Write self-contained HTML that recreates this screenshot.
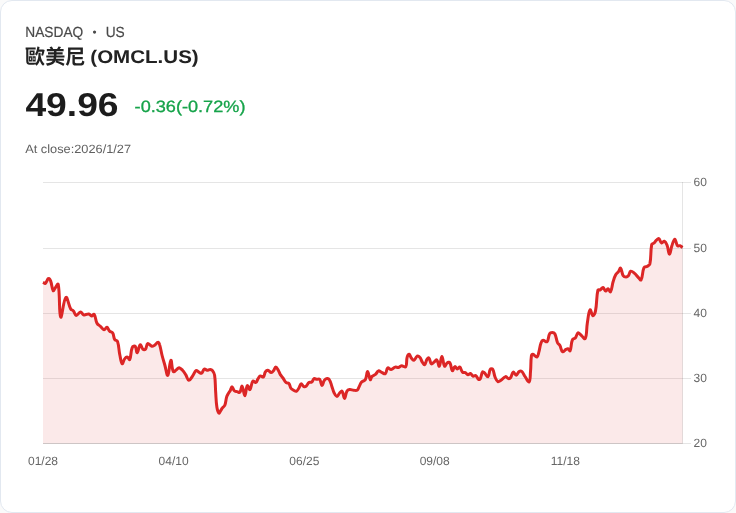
<!DOCTYPE html>
<html lang="zh-Hant">
<head>
<meta charset="utf-8">
<title>OMCL.US</title>
<style>
html,body{margin:0;padding:0;background:#fafafa;}
body{width:736px;height:513px;overflow:hidden;position:relative;font-family:"Liberation Sans","Noto Sans CJK TC",sans-serif;}
.card{position:absolute;left:0;top:0;width:734px;height:511px;border:1px solid #e2e8f0;border-radius:12px;background:#fff;}
svg{position:absolute;left:0;top:0;will-change:transform;text-rendering:geometricPrecision;}
svg text{font-family:"Liberation Sans",sans-serif;font-size:12px;fill:#666;}
svg .h{font-family:"Liberation Sans","Noto Sans CJK TC",sans-serif;}
#mk,#mk3{font-size:14.6px;fill:#4a4a4a;stroke:#4a4a4a;stroke-width:0.2px;}
#mk2{font-size:14.6px;fill:#4a4a4a;}
#nm{font-family:"Noto Sans CJK TC","Liberation Sans",sans-serif;font-size:20.5px;font-weight:700;fill:#222;}
#nm2{font-size:18.4px;font-weight:700;fill:#222;}
#px{font-size:33px;font-weight:700;fill:#1c1c1c;}
#ch{font-size:16.4px;fill:#16a34a;stroke:#16a34a;stroke-width:0.3px;}
#cl{font-size:12px;fill:#606060;}
</style>
</head>
<body>
<div class="card"></div>
<svg width="736" height="513" viewBox="0 0 736 513">
<g stroke="rgba(0,0,0,0.1)" stroke-width="1" fill="none" shape-rendering="crispEdges">
<path d="M43 182.5H690.5M43 248.5H690.5M43 313.5H690.5M43 378.5H690.5M43 443.5H690.5"/>
</g>
<g text-anchor="start">
<text x="693.5" y="186">60</text><text x="693.5" y="252">50</text><text x="693.5" y="317">40</text><text x="693.5" y="382">30</text><text x="693.5" y="447">20</text>
</g>
<g text-anchor="middle">
<text x="43" y="465">01/28</text><text x="173.6" y="465">04/10</text><text x="304.3" y="465">06/25</text><text x="434.7" y="465">09/08</text><text x="565.3" y="465">11/18</text>
</g>
<path d="M43.0 282.3C43.9 282.7 44.6 283.8 45.2 283.4C46.8 282.3 47.1 279.1 48.5 278.5C49.3 278.1 50.2 279.7 50.6 280.9C52.0 284.6 51.8 288.4 53.2 290.7C53.6 291.4 54.3 289.3 55.0 288.4C56.3 286.8 57.9 282.8 58.2 284.4C60.2 294.3 58.8 313.9 60.7 317.1C61.9 319.1 63.4 299.3 65.9 297.3C67.4 296.1 68.3 304.6 70.7 308.9C71.3 310.0 72.5 309.9 73.4 310.9C74.7 312.5 74.8 315.2 76.2 315.4C77.6 315.6 78.8 312.1 80.5 312.0C81.9 311.9 82.3 314.6 83.9 315.0C85.6 315.4 87.0 313.7 88.8 313.9C90.1 314.1 90.5 315.9 91.6 316.0C92.6 316.1 93.7 313.6 94.2 314.3C95.8 316.5 95.3 320.0 97.0 323.2C97.9 324.9 99.2 325.2 100.7 326.6C102.1 327.9 102.7 329.6 104.1 329.8C105.2 329.9 105.9 327.1 106.9 327.3C108.1 327.6 108.3 329.8 109.6 331.1C110.6 332.1 112.0 331.8 112.7 333.0C114.0 335.2 113.4 337.3 114.7 339.5C115.3 340.6 117.1 340.2 117.5 341.4C119.1 346.3 118.7 349.5 119.8 354.8C120.6 358.4 121.0 362.8 122.2 363.7C123.0 364.3 123.4 360.3 124.8 358.6C125.5 357.7 126.4 356.9 127.3 357.1C128.4 357.3 129.3 360.4 129.7 359.6C131.3 356.5 130.5 351.6 132.3 347.3C132.7 346.2 134.6 345.5 135.2 346.2C136.5 347.7 136.3 352.9 137.2 352.7C138.3 352.4 138.8 345.6 140.2 344.8C141.1 344.3 141.6 348.1 143.0 349.3C143.6 349.9 144.9 349.9 145.4 349.3C146.8 347.6 146.3 344.2 147.7 343.5C148.8 343.0 150.1 345.8 151.8 346.2C152.8 346.5 153.6 345.8 154.6 345.2C156.1 344.2 156.8 342.3 158.0 342.2C158.8 342.1 159.3 343.5 159.6 344.6C160.9 348.8 161.0 351.2 162.1 355.5C163.1 359.3 163.7 361.2 164.8 365.0C166.0 369.1 166.8 376.1 167.8 375.3C169.2 374.2 169.6 361.0 170.9 360.2C171.8 359.6 171.6 368.7 173.3 371.6C173.8 372.5 175.2 370.6 176.4 369.8C177.5 369.0 178.0 367.6 179.1 367.7C180.4 367.8 181.3 369.0 182.5 370.2C184.0 371.8 184.5 372.8 185.7 374.6C187.1 376.8 187.4 380.0 188.9 380.3C190.2 380.5 191.3 377.8 192.7 375.9C194.2 373.8 194.5 371.5 196.1 370.5C196.9 370.0 197.7 371.5 198.9 372.1C199.9 372.6 200.8 373.6 201.6 373.2C203.0 372.4 202.9 369.8 204.3 369.1C205.1 368.6 206.0 370.1 207.1 370.2C208.3 370.3 209.0 369.3 210.2 369.4C211.2 369.5 211.9 369.9 212.5 370.7C213.6 372.2 214.3 373.3 214.6 375.2C215.5 381.3 215.2 384.6 215.6 390.9C216.1 397.5 215.9 400.8 216.9 407.3C217.3 409.8 217.9 412.3 218.9 413.2C219.4 413.6 220.0 411.7 220.7 410.7C221.4 409.7 221.5 409.0 222.3 408.0C223.2 406.8 224.3 406.6 224.8 405.3C226.0 402.3 225.7 400.3 226.6 397.1C227.0 395.7 227.5 395.0 228.2 393.7C228.9 392.4 229.5 392.0 230.2 390.7C231.0 389.2 231.2 386.8 232.0 386.8C232.8 386.8 233.1 389.5 234.3 390.7C235.1 391.5 236.0 391.3 237.1 391.6C238.2 391.9 239.2 392.9 239.8 392.3C241.2 390.8 241.3 385.7 242.1 386.2C243.3 387.0 243.8 395.8 244.8 395.7C245.9 395.6 245.9 387.4 247.3 385.7C248.0 384.9 249.2 390.2 250.0 389.6C251.4 388.4 251.1 383.2 252.8 381.1C253.4 380.3 254.9 382.9 255.8 382.5C257.1 381.9 257.1 380.0 258.2 378.4C258.9 377.3 259.3 376.2 260.3 375.9C261.3 375.6 262.6 377.6 263.4 377.0C264.7 376.0 264.2 373.6 265.4 371.8C266.0 370.9 266.8 370.1 267.8 370.2C269.2 370.4 269.9 372.4 271.2 372.5C272.1 372.6 272.8 371.6 273.5 370.7C274.6 369.4 274.7 367.1 275.7 367.1C276.7 367.1 277.5 369.0 278.4 370.5C279.5 372.3 279.6 373.4 280.7 375.2C281.5 376.4 282.1 376.8 283.0 378.0C284.3 379.8 284.6 381.3 286.2 382.7C287.0 383.4 288.2 382.6 288.9 383.4C290.1 384.8 289.8 386.5 290.9 388.2C291.6 389.3 292.4 389.5 293.6 390.2C294.6 390.8 295.5 391.6 296.4 391.3C297.6 390.8 298.0 389.5 298.8 388.2C299.9 386.5 300.0 384.2 301.1 383.8C302.0 383.5 302.6 386.0 303.9 386.6C304.7 387.0 305.5 386.8 306.2 386.2C307.5 385.1 307.5 383.5 308.9 382.5C309.7 381.9 310.9 382.7 311.7 382.1C312.9 381.2 312.9 379.3 314.1 378.6C314.9 378.2 315.7 379.2 316.8 379.3C317.9 379.4 319.0 378.6 319.6 379.3C321.1 381.0 321.0 385.3 322.0 385.5C322.9 385.7 323.0 382.1 324.3 380.3C325.1 379.2 326.0 378.5 327.1 378.4C328.0 378.3 328.9 378.8 329.4 379.7C330.8 382.0 330.9 383.6 331.8 386.2C332.8 388.9 332.9 390.5 334.2 393.0C335.0 394.5 335.9 396.4 337.0 396.4C338.1 396.4 338.4 394.2 339.6 393.0C340.4 392.2 341.5 390.7 342.1 391.3C343.5 392.8 343.5 398.4 344.5 398.4C345.5 398.4 345.5 393.8 346.9 391.3C347.5 390.2 348.4 389.8 349.6 389.6C351.1 389.4 352.1 390.1 353.7 390.2C355.1 390.3 356.1 390.8 357.1 390.2C358.3 389.5 358.3 388.2 359.1 386.8C360.1 384.9 360.2 383.7 361.6 382.1C362.7 380.8 364.5 381.1 365.3 379.7C366.9 376.9 366.6 371.6 367.6 371.6C368.6 371.6 369.1 378.4 370.3 379.7C370.8 380.3 371.0 377.4 372.0 376.4C373.1 375.3 374.3 375.4 375.5 374.4C376.9 373.2 377.1 371.4 378.5 370.9C379.5 370.5 380.3 371.8 381.6 372.3C383.1 372.9 384.4 374.4 385.3 373.7C386.8 372.6 386.3 368.9 387.7 367.9C388.6 367.3 389.8 369.7 391.1 369.6C392.8 369.4 393.4 367.6 395.2 367.1C396.4 366.8 397.3 367.8 398.6 367.5C399.8 367.2 400.2 365.8 401.4 365.7C403.0 365.5 405.0 367.9 405.7 366.8C407.3 364.5 406.1 360.9 407.1 357.3C407.5 355.9 408.4 354.2 409.2 354.3C410.1 354.5 410.3 356.7 411.3 358.0C412.1 359.1 413.0 360.6 413.9 360.3C415.3 359.9 415.6 357.0 417.1 356.2C417.9 355.8 419.1 356.5 419.8 357.3C421.2 358.8 421.1 360.3 422.3 362.1C423.1 363.3 423.9 365.2 424.6 364.8C425.8 364.1 425.8 361.3 427.0 359.3C427.5 358.5 428.4 357.5 428.9 358.0C430.2 359.3 430.0 362.7 431.4 363.8C432.1 364.4 433.1 362.8 434.1 362.1C435.2 361.3 436.1 359.4 436.8 360.0C438.2 361.1 438.5 366.7 439.3 366.2C440.5 365.4 440.8 356.6 441.9 356.6C443.0 356.6 443.1 364.4 444.6 366.2C445.2 366.9 445.9 363.8 447.1 363.0C447.9 362.4 449.3 361.9 449.8 362.7C451.4 365.0 451.0 369.7 452.3 370.7C453.0 371.3 453.7 367.0 454.9 366.6C455.7 366.3 456.3 368.8 457.3 368.9C458.2 369.0 459.1 366.7 459.8 367.1C461.1 367.9 461.0 370.6 462.5 372.1C463.3 372.9 464.4 372.2 465.5 372.7C466.6 373.3 466.9 374.7 467.9 374.8C468.9 374.9 469.6 373.2 470.5 373.4C471.6 373.7 471.8 375.7 473.0 376.2C473.9 376.6 474.9 375.0 475.7 375.5C477.1 376.3 477.1 378.3 478.4 379.3C478.9 379.7 479.9 379.5 480.2 378.9C481.5 376.6 481.2 374.1 482.5 372.1C482.8 371.6 483.7 372.2 484.3 372.7C485.9 374.1 487.0 377.4 488.0 376.8C489.4 376.0 488.9 371.6 490.3 369.3C490.7 368.6 492.3 368.6 492.7 369.3C494.2 371.9 493.9 374.4 495.2 377.5C496.0 379.3 496.5 380.9 497.9 381.6C498.8 382.0 499.8 381.0 500.9 380.3C502.9 379.0 503.8 377.0 505.7 376.6C506.8 376.4 507.3 378.4 508.4 378.6C509.3 378.8 510.1 378.3 510.7 377.5C512.0 375.7 511.9 372.6 513.2 372.1C514.1 371.7 515.1 375.3 516.2 375.2C517.4 375.1 517.6 372.7 518.9 371.7C519.7 371.1 520.7 370.6 521.4 371.1C523.0 372.2 523.3 373.9 524.6 375.8C526.4 378.3 528.1 382.6 529.1 381.9C530.5 381.0 530.1 375.8 530.5 371.7C531.1 365.4 530.6 362.1 531.4 356.0C531.5 355.1 532.1 354.1 532.8 354.2C534.3 354.5 535.7 357.4 536.9 357.0C538.2 356.5 538.3 354.0 538.9 351.9C539.9 348.4 539.8 346.4 541.0 343.0C541.4 341.8 541.9 340.5 543.0 340.3C544.4 340.0 546.2 342.6 547.1 341.7C548.8 340.0 548.1 336.4 549.6 333.7C550.1 332.7 551.2 332.4 552.3 332.4C553.3 332.4 554.3 332.8 554.8 333.7C556.4 336.8 556.1 339.2 557.5 342.6C558.1 343.9 559.1 344.1 559.8 345.3C561.2 347.7 561.0 350.7 562.6 351.7C563.5 352.3 564.6 350.2 566.0 349.4C566.7 349.0 567.3 348.5 568.0 348.7C569.0 349.0 569.7 351.5 570.1 350.8C571.5 348.0 570.8 343.8 572.4 339.9C572.9 338.6 574.6 338.9 575.5 337.8C576.8 336.1 576.7 333.5 578.0 332.8C578.8 332.3 579.6 334.0 580.7 334.8C582.5 336.2 584.5 339.8 585.2 338.5C587.1 335.1 586.3 329.3 587.3 323.2C588.2 317.8 588.5 311.8 590.0 309.8C590.7 308.8 591.8 315.5 593.0 315.7C594.0 315.9 595.1 313.0 595.5 310.9C597.1 302.8 596.2 297.8 597.9 290.2C598.1 289.3 599.5 290.2 600.3 289.8C601.5 289.2 602.0 287.3 603.0 287.5C604.2 287.8 604.5 290.8 605.7 291.1C606.5 291.3 607.1 288.7 608.0 288.8C609.0 289.0 609.9 292.6 610.5 291.8C612.0 289.8 611.9 285.7 613.1 281.8C614.0 278.9 614.3 277.3 615.7 274.7C616.5 273.2 617.5 272.9 618.5 271.6C619.5 270.3 620.0 267.7 620.6 268.2C621.9 269.3 621.6 273.2 623.2 275.7C623.8 276.7 625.0 277.1 626.1 277.1C627.0 277.1 627.8 276.5 628.4 275.7C629.6 274.2 629.4 271.7 630.7 271.2C631.9 270.8 633.2 272.3 634.6 273.4C636.1 274.6 636.6 275.7 638.0 277.1C639.2 278.3 640.5 280.7 641.1 279.8C642.9 276.9 642.1 271.8 644.0 267.6C644.6 266.4 646.2 267.0 647.4 266.2C648.5 265.5 649.6 265.1 649.9 263.8C651.4 256.5 650.3 251.9 651.7 244.6C651.9 243.5 653.2 243.8 654.0 243.0C655.1 242.0 655.3 241.2 656.4 240.2C657.3 239.4 658.1 238.1 658.8 238.5C660.1 239.2 660.2 242.3 661.6 243.0C662.4 243.4 663.4 240.9 664.3 241.2C665.6 241.7 666.3 243.3 667.0 245.0C668.4 248.5 668.5 254.3 669.5 254.3C670.5 254.3 670.8 248.6 672.1 245.0C672.9 242.6 673.8 239.2 674.8 239.3C675.9 239.4 676.0 243.8 677.5 245.7C678.0 246.4 679.0 245.4 679.9 245.7C681.1 246.1 681.5 246.8 682.6 247.5L682.6 443.5L43.0 443.5Z" fill="rgba(220,38,38,0.1)" stroke="none"/>
<path d="M43.0 282.3C43.9 282.7 44.6 283.8 45.2 283.4C46.8 282.3 47.1 279.1 48.5 278.5C49.3 278.1 50.2 279.7 50.6 280.9C52.0 284.6 51.8 288.4 53.2 290.7C53.6 291.4 54.3 289.3 55.0 288.4C56.3 286.8 57.9 282.8 58.2 284.4C60.2 294.3 58.8 313.9 60.7 317.1C61.9 319.1 63.4 299.3 65.9 297.3C67.4 296.1 68.3 304.6 70.7 308.9C71.3 310.0 72.5 309.9 73.4 310.9C74.7 312.5 74.8 315.2 76.2 315.4C77.6 315.6 78.8 312.1 80.5 312.0C81.9 311.9 82.3 314.6 83.9 315.0C85.6 315.4 87.0 313.7 88.8 313.9C90.1 314.1 90.5 315.9 91.6 316.0C92.6 316.1 93.7 313.6 94.2 314.3C95.8 316.5 95.3 320.0 97.0 323.2C97.9 324.9 99.2 325.2 100.7 326.6C102.1 327.9 102.7 329.6 104.1 329.8C105.2 329.9 105.9 327.1 106.9 327.3C108.1 327.6 108.3 329.8 109.6 331.1C110.6 332.1 112.0 331.8 112.7 333.0C114.0 335.2 113.4 337.3 114.7 339.5C115.3 340.6 117.1 340.2 117.5 341.4C119.1 346.3 118.7 349.5 119.8 354.8C120.6 358.4 121.0 362.8 122.2 363.7C123.0 364.3 123.4 360.3 124.8 358.6C125.5 357.7 126.4 356.9 127.3 357.1C128.4 357.3 129.3 360.4 129.7 359.6C131.3 356.5 130.5 351.6 132.3 347.3C132.7 346.2 134.6 345.5 135.2 346.2C136.5 347.7 136.3 352.9 137.2 352.7C138.3 352.4 138.8 345.6 140.2 344.8C141.1 344.3 141.6 348.1 143.0 349.3C143.6 349.9 144.9 349.9 145.4 349.3C146.8 347.6 146.3 344.2 147.7 343.5C148.8 343.0 150.1 345.8 151.8 346.2C152.8 346.5 153.6 345.8 154.6 345.2C156.1 344.2 156.8 342.3 158.0 342.2C158.8 342.1 159.3 343.5 159.6 344.6C160.9 348.8 161.0 351.2 162.1 355.5C163.1 359.3 163.7 361.2 164.8 365.0C166.0 369.1 166.8 376.1 167.8 375.3C169.2 374.2 169.6 361.0 170.9 360.2C171.8 359.6 171.6 368.7 173.3 371.6C173.8 372.5 175.2 370.6 176.4 369.8C177.5 369.0 178.0 367.6 179.1 367.7C180.4 367.8 181.3 369.0 182.5 370.2C184.0 371.8 184.5 372.8 185.7 374.6C187.1 376.8 187.4 380.0 188.9 380.3C190.2 380.5 191.3 377.8 192.7 375.9C194.2 373.8 194.5 371.5 196.1 370.5C196.9 370.0 197.7 371.5 198.9 372.1C199.9 372.6 200.8 373.6 201.6 373.2C203.0 372.4 202.9 369.8 204.3 369.1C205.1 368.6 206.0 370.1 207.1 370.2C208.3 370.3 209.0 369.3 210.2 369.4C211.2 369.5 211.9 369.9 212.5 370.7C213.6 372.2 214.3 373.3 214.6 375.2C215.5 381.3 215.2 384.6 215.6 390.9C216.1 397.5 215.9 400.8 216.9 407.3C217.3 409.8 217.9 412.3 218.9 413.2C219.4 413.6 220.0 411.7 220.7 410.7C221.4 409.7 221.5 409.0 222.3 408.0C223.2 406.8 224.3 406.6 224.8 405.3C226.0 402.3 225.7 400.3 226.6 397.1C227.0 395.7 227.5 395.0 228.2 393.7C228.9 392.4 229.5 392.0 230.2 390.7C231.0 389.2 231.2 386.8 232.0 386.8C232.8 386.8 233.1 389.5 234.3 390.7C235.1 391.5 236.0 391.3 237.1 391.6C238.2 391.9 239.2 392.9 239.8 392.3C241.2 390.8 241.3 385.7 242.1 386.2C243.3 387.0 243.8 395.8 244.8 395.7C245.9 395.6 245.9 387.4 247.3 385.7C248.0 384.9 249.2 390.2 250.0 389.6C251.4 388.4 251.1 383.2 252.8 381.1C253.4 380.3 254.9 382.9 255.8 382.5C257.1 381.9 257.1 380.0 258.2 378.4C258.9 377.3 259.3 376.2 260.3 375.9C261.3 375.6 262.6 377.6 263.4 377.0C264.7 376.0 264.2 373.6 265.4 371.8C266.0 370.9 266.8 370.1 267.8 370.2C269.2 370.4 269.9 372.4 271.2 372.5C272.1 372.6 272.8 371.6 273.5 370.7C274.6 369.4 274.7 367.1 275.7 367.1C276.7 367.1 277.5 369.0 278.4 370.5C279.5 372.3 279.6 373.4 280.7 375.2C281.5 376.4 282.1 376.8 283.0 378.0C284.3 379.8 284.6 381.3 286.2 382.7C287.0 383.4 288.2 382.6 288.9 383.4C290.1 384.8 289.8 386.5 290.9 388.2C291.6 389.3 292.4 389.5 293.6 390.2C294.6 390.8 295.5 391.6 296.4 391.3C297.6 390.8 298.0 389.5 298.8 388.2C299.9 386.5 300.0 384.2 301.1 383.8C302.0 383.5 302.6 386.0 303.9 386.6C304.7 387.0 305.5 386.8 306.2 386.2C307.5 385.1 307.5 383.5 308.9 382.5C309.7 381.9 310.9 382.7 311.7 382.1C312.9 381.2 312.9 379.3 314.1 378.6C314.9 378.2 315.7 379.2 316.8 379.3C317.9 379.4 319.0 378.6 319.6 379.3C321.1 381.0 321.0 385.3 322.0 385.5C322.9 385.7 323.0 382.1 324.3 380.3C325.1 379.2 326.0 378.5 327.1 378.4C328.0 378.3 328.9 378.8 329.4 379.7C330.8 382.0 330.9 383.6 331.8 386.2C332.8 388.9 332.9 390.5 334.2 393.0C335.0 394.5 335.9 396.4 337.0 396.4C338.1 396.4 338.4 394.2 339.6 393.0C340.4 392.2 341.5 390.7 342.1 391.3C343.5 392.8 343.5 398.4 344.5 398.4C345.5 398.4 345.5 393.8 346.9 391.3C347.5 390.2 348.4 389.8 349.6 389.6C351.1 389.4 352.1 390.1 353.7 390.2C355.1 390.3 356.1 390.8 357.1 390.2C358.3 389.5 358.3 388.2 359.1 386.8C360.1 384.9 360.2 383.7 361.6 382.1C362.7 380.8 364.5 381.1 365.3 379.7C366.9 376.9 366.6 371.6 367.6 371.6C368.6 371.6 369.1 378.4 370.3 379.7C370.8 380.3 371.0 377.4 372.0 376.4C373.1 375.3 374.3 375.4 375.5 374.4C376.9 373.2 377.1 371.4 378.5 370.9C379.5 370.5 380.3 371.8 381.6 372.3C383.1 372.9 384.4 374.4 385.3 373.7C386.8 372.6 386.3 368.9 387.7 367.9C388.6 367.3 389.8 369.7 391.1 369.6C392.8 369.4 393.4 367.6 395.2 367.1C396.4 366.8 397.3 367.8 398.6 367.5C399.8 367.2 400.2 365.8 401.4 365.7C403.0 365.5 405.0 367.9 405.7 366.8C407.3 364.5 406.1 360.9 407.1 357.3C407.5 355.9 408.4 354.2 409.2 354.3C410.1 354.5 410.3 356.7 411.3 358.0C412.1 359.1 413.0 360.6 413.9 360.3C415.3 359.9 415.6 357.0 417.1 356.2C417.9 355.8 419.1 356.5 419.8 357.3C421.2 358.8 421.1 360.3 422.3 362.1C423.1 363.3 423.9 365.2 424.6 364.8C425.8 364.1 425.8 361.3 427.0 359.3C427.5 358.5 428.4 357.5 428.9 358.0C430.2 359.3 430.0 362.7 431.4 363.8C432.1 364.4 433.1 362.8 434.1 362.1C435.2 361.3 436.1 359.4 436.8 360.0C438.2 361.1 438.5 366.7 439.3 366.2C440.5 365.4 440.8 356.6 441.9 356.6C443.0 356.6 443.1 364.4 444.6 366.2C445.2 366.9 445.9 363.8 447.1 363.0C447.9 362.4 449.3 361.9 449.8 362.7C451.4 365.0 451.0 369.7 452.3 370.7C453.0 371.3 453.7 367.0 454.9 366.6C455.7 366.3 456.3 368.8 457.3 368.9C458.2 369.0 459.1 366.7 459.8 367.1C461.1 367.9 461.0 370.6 462.5 372.1C463.3 372.9 464.4 372.2 465.5 372.7C466.6 373.3 466.9 374.7 467.9 374.8C468.9 374.9 469.6 373.2 470.5 373.4C471.6 373.7 471.8 375.7 473.0 376.2C473.9 376.6 474.9 375.0 475.7 375.5C477.1 376.3 477.1 378.3 478.4 379.3C478.9 379.7 479.9 379.5 480.2 378.9C481.5 376.6 481.2 374.1 482.5 372.1C482.8 371.6 483.7 372.2 484.3 372.7C485.9 374.1 487.0 377.4 488.0 376.8C489.4 376.0 488.9 371.6 490.3 369.3C490.7 368.6 492.3 368.6 492.7 369.3C494.2 371.9 493.9 374.4 495.2 377.5C496.0 379.3 496.5 380.9 497.9 381.6C498.8 382.0 499.8 381.0 500.9 380.3C502.9 379.0 503.8 377.0 505.7 376.6C506.8 376.4 507.3 378.4 508.4 378.6C509.3 378.8 510.1 378.3 510.7 377.5C512.0 375.7 511.9 372.6 513.2 372.1C514.1 371.7 515.1 375.3 516.2 375.2C517.4 375.1 517.6 372.7 518.9 371.7C519.7 371.1 520.7 370.6 521.4 371.1C523.0 372.2 523.3 373.9 524.6 375.8C526.4 378.3 528.1 382.6 529.1 381.9C530.5 381.0 530.1 375.8 530.5 371.7C531.1 365.4 530.6 362.1 531.4 356.0C531.5 355.1 532.1 354.1 532.8 354.2C534.3 354.5 535.7 357.4 536.9 357.0C538.2 356.5 538.3 354.0 538.9 351.9C539.9 348.4 539.8 346.4 541.0 343.0C541.4 341.8 541.9 340.5 543.0 340.3C544.4 340.0 546.2 342.6 547.1 341.7C548.8 340.0 548.1 336.4 549.6 333.7C550.1 332.7 551.2 332.4 552.3 332.4C553.3 332.4 554.3 332.8 554.8 333.7C556.4 336.8 556.1 339.2 557.5 342.6C558.1 343.9 559.1 344.1 559.8 345.3C561.2 347.7 561.0 350.7 562.6 351.7C563.5 352.3 564.6 350.2 566.0 349.4C566.7 349.0 567.3 348.5 568.0 348.7C569.0 349.0 569.7 351.5 570.1 350.8C571.5 348.0 570.8 343.8 572.4 339.9C572.9 338.6 574.6 338.9 575.5 337.8C576.8 336.1 576.7 333.5 578.0 332.8C578.8 332.3 579.6 334.0 580.7 334.8C582.5 336.2 584.5 339.8 585.2 338.5C587.1 335.1 586.3 329.3 587.3 323.2C588.2 317.8 588.5 311.8 590.0 309.8C590.7 308.8 591.8 315.5 593.0 315.7C594.0 315.9 595.1 313.0 595.5 310.9C597.1 302.8 596.2 297.8 597.9 290.2C598.1 289.3 599.5 290.2 600.3 289.8C601.5 289.2 602.0 287.3 603.0 287.5C604.2 287.8 604.5 290.8 605.7 291.1C606.5 291.3 607.1 288.7 608.0 288.8C609.0 289.0 609.9 292.6 610.5 291.8C612.0 289.8 611.9 285.7 613.1 281.8C614.0 278.9 614.3 277.3 615.7 274.7C616.5 273.2 617.5 272.9 618.5 271.6C619.5 270.3 620.0 267.7 620.6 268.2C621.9 269.3 621.6 273.2 623.2 275.7C623.8 276.7 625.0 277.1 626.1 277.1C627.0 277.1 627.8 276.5 628.4 275.7C629.6 274.2 629.4 271.7 630.7 271.2C631.9 270.8 633.2 272.3 634.6 273.4C636.1 274.6 636.6 275.7 638.0 277.1C639.2 278.3 640.5 280.7 641.1 279.8C642.9 276.9 642.1 271.8 644.0 267.6C644.6 266.4 646.2 267.0 647.4 266.2C648.5 265.5 649.6 265.1 649.9 263.8C651.4 256.5 650.3 251.9 651.7 244.6C651.9 243.5 653.2 243.8 654.0 243.0C655.1 242.0 655.3 241.2 656.4 240.2C657.3 239.4 658.1 238.1 658.8 238.5C660.1 239.2 660.2 242.3 661.6 243.0C662.4 243.4 663.4 240.9 664.3 241.2C665.6 241.7 666.3 243.3 667.0 245.0C668.4 248.5 668.5 254.3 669.5 254.3C670.5 254.3 670.8 248.6 672.1 245.0C672.9 242.6 673.8 239.2 674.8 239.3C675.9 239.4 676.0 243.8 677.5 245.7C678.0 246.4 679.0 245.4 679.9 245.7C681.1 246.1 681.5 246.8 682.6 247.5" fill="none" stroke="#dc2626" stroke-width="3" stroke-linejoin="round" stroke-linecap="butt"/>
<g stroke="rgba(0,0,0,0.1)" stroke-width="1" fill="none" shape-rendering="crispEdges"><path d="M682.5 182V444M43 443.5H683"/></g>
<g class="h">
<text class="h" id="mk" transform="translate(25.3 37) scale(0.94 1)">NASDAQ</text>
<text class="h" id="mk2" transform="translate(92.6 36) scale(0.8 0.8)">•</text>
<text class="h" id="mk3" transform="translate(105.7 37) scale(0.94 1)">US</text>
<text class="h" id="nm" transform="translate(25.1 64) scale(0.977 1)">歐美尼</text>
<text class="h" id="nm2" transform="translate(90.3 63) scale(1.117 1)">(OMCL.US)</text>
<text class="h" id="px" transform="translate(25.4 116) scale(1.128 1)">49.96</text>
<text class="h" id="ch" transform="translate(134.6 112) scale(1.106 1)">-0.36(-0.72%)</text>
<text class="h" id="cl" transform="translate(25.2 153) scale(1.065 1)">At close:2026/1/27</text>
</g>
</svg>
</body>
</html>
